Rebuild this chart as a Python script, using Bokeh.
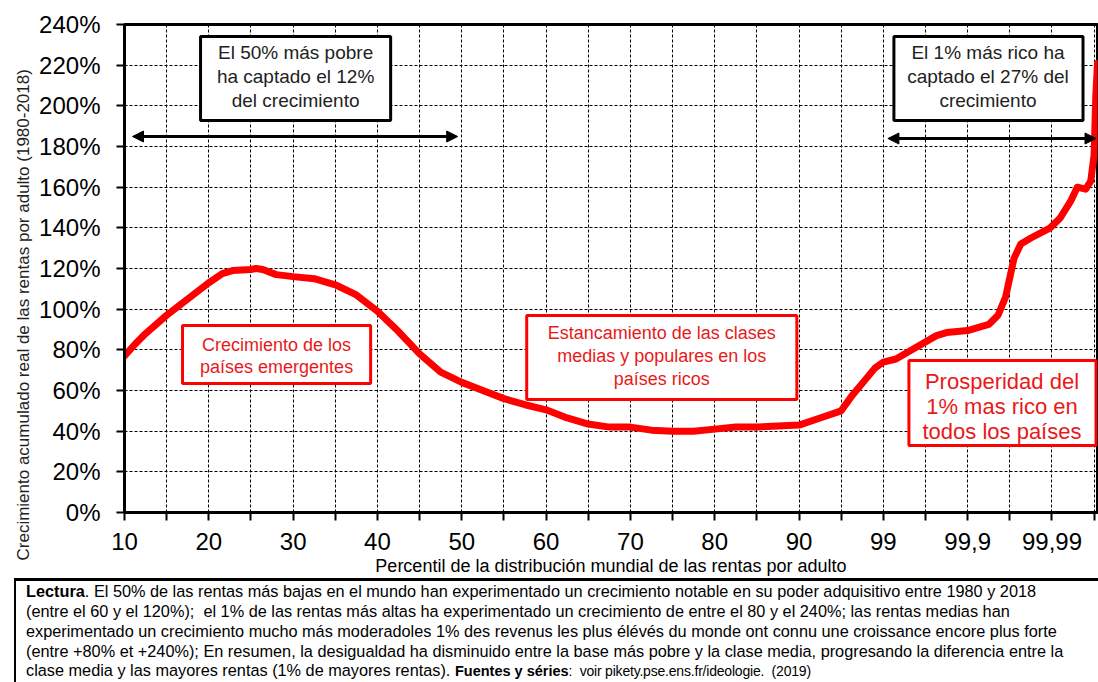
import math
from bokeh.plotting import figure
from bokeh.models import Range1d, FixedTicker, BoxAnnotation, Label, Arrow, NormalHead, Title, Div
from bokeh.layouts import column
from bokeh.embed import file_html
from bokeh.resources import INLINE

# ---------------- data ----------------
tick_labels = ["10", "20", "30", "40", "50", "60", "70", "80", "90", "99", "99,9", "99,99"]
y_ticks = [0, 20, 40, 60, 80, 100, 120, 140, 160, 180, 200, 220, 240]

# position on the (equally spaced) percentile scale: 0 = p10 ... 9 = p99, 10 = p99.9, 11 = p99.99
pos = [0.0, 0.13, 0.25, 0.5, 0.75, 1.0, 1.16, 1.28, 1.5, 1.56, 1.64, 1.8, 2.0, 2.25, 2.5, 2.75,
       3.0, 3.25, 3.5, 3.75, 4.0, 4.25, 4.5, 4.75, 5.0, 5.25, 5.5, 5.75, 6.0, 6.25, 6.5, 6.75,
       7.0, 7.25, 7.5, 7.75, 8.0, 8.25, 8.5, 8.62, 8.76, 8.9, 9.0, 9.15, 9.38, 9.63, 9.75, 10.0,
       10.25, 10.36, 10.45, 10.55, 10.63, 10.75, 10.98, 11.1, 11.22, 11.3, 11.4, 11.46, 11.5,
       11.52, 11.54]
growth = [77, 83, 88, 97, 105, 113, 117.5, 119, 119.5, 120, 119.5, 117, 116, 115, 112, 107,
          99, 89, 78, 69, 64, 60, 56, 53, 50.5, 46.5, 43.5, 42, 42, 40.5, 40, 40,
          41, 42, 42, 42.5, 43, 46.5, 50, 57, 64, 71, 74, 75.5, 81, 87, 88.5, 89.5,
          92.5, 97, 106, 125, 132, 135, 140, 145, 153, 160, 159, 163, 176,
          205, 221]

FONT = "Liberation Sans"
RED = "#ff0000"
RED_TXT = "#e81919"

# page-pixel -> data helpers (layout only)
X0, XS = 124.0, 84.27
Y0, YS = 512.0, 488.0 / 240.0


def dx(px):
    return (px - X0) / XS


def dy(py):
    return (Y0 - py) / YS


p = figure(width=1098, height=578, output_backend="svg", toolbar_location=None,
           x_range=Range1d(0, 11.54), y_range=Range1d(0, 240),
           min_border_left=124, min_border_right=1, min_border_top=24, min_border_bottom=66)
p.background_fill_color = "white"
p.border_fill_color = "white"
p.outline_line_color = "black"
p.outline_line_width = 3

# axes
xt = FixedTicker(ticks=list(range(len(tick_labels))),
                 minor_ticks=[i + 0.5 for i in range(len(tick_labels))])
p.xaxis.ticker = xt
p.xaxis.major_label_overrides = {i: t for i, t in enumerate(tick_labels)}
p.yaxis.ticker = FixedTicker(ticks=y_ticks)
p.yaxis.major_label_overrides = {v: f"{v}%" for v in y_ticks}
for ax in (p.xaxis[0], p.yaxis[0]):
    ax.axis_line_width = 3
    ax.axis_line_color = "black"
    ax.major_tick_line_width = 2
    ax.major_tick_line_color = "black"
    ax.major_tick_out = 8
    ax.major_tick_in = 0
    ax.major_label_text_font = FONT
    ax.major_label_text_font_size = "24px"
    ax.major_label_text_color = "black"
p.xaxis.minor_tick_line_width = 2
p.xaxis.minor_tick_line_color = "black"
p.xaxis.minor_tick_out = 8
p.xaxis.minor_tick_in = 0
p.yaxis.minor_tick_line_color = None
p.xaxis.major_label_standoff = 12
p.yaxis.major_label_standoff = 16
p.xaxis.axis_label = "Percentil de la distribución mundial de las rentas por adulto"
p.xaxis.axis_label_text_font = FONT
p.xaxis.axis_label_text_font_size = "18px"
p.xaxis.axis_label_text_font_style = "normal"
p.xaxis.axis_label_text_color = "black"
p.xaxis.axis_label_standoff = 3

# grid
for g in (p.xgrid[0], p.ygrid[0]):
    g.grid_line_color = "black"
    g.grid_line_width = 1
    g.grid_line_dash = "3 2"
p.xgrid.ticker = xt
p.xgrid.minor_grid_line_color = "black"
p.xgrid.minor_grid_line_width = 1
p.xgrid.minor_grid_line_dash = "3 2"

# y-axis title
p.add_layout(Title(text="Crecimiento acumulado real de las rentas por adulto  (1980-2018)",
                   align="left", offset=-48, standoff=8,
                   text_font=FONT, text_font_size="17px", text_font_style="normal",
                   text_color="#222222"), "left")

# curve
p.line(pos, growth, line_color=RED, line_width=7, line_join="round", line_cap="round")


def box(l, r, t, b, color, lw=3):
    p.add_layout(BoxAnnotation(left=dx(l), right=dx(r), top=dy(t), bottom=dy(b),
                               fill_color="white", fill_alpha=1.0,
                               line_color=color, line_width=lw, line_alpha=1.0))


def lines(cx, ys, texts, color, size):
    for yy, t in zip(ys, texts):
        p.add_layout(Label(x=dx(cx), y=dy(yy), text=t, text_align="center", text_baseline="middle",
                           text_font=FONT, text_font_size=size, text_color=color))


def arrow(x1, x2, y):
    p.add_layout(Arrow(start=NormalHead(size=11, fill_color="black", line_color="black"),
                       end=NormalHead(size=11, fill_color="black", line_color="black"),
                       x_start=dx(x1), y_start=dy(y), x_end=dx(x2), y_end=dy(y),
                       line_color="black", line_width=3))


# black boxes + arrows
box(200, 390, 36, 120, "black")
lines(295, [52, 76, 100], ["El 50% más pobre", "ha captado el 12%", "del crecimiento"], "#222222", "19px")
arrow(132, 457, 136)

box(893, 1082, 36, 120, "black")
lines(987, [52, 76, 100], ["El 1% más rico ha", "captado el 27% del", "crecimiento"], "#222222", "19px")
arrow(887, 1095, 138)

# red boxes
box(182, 370, 325, 383, RED)
lines(276, [344, 366], ["Crecimiento de los", "países emergentes"], RED_TXT, "18px")

box(526, 796, 315, 399, RED)
lines(661, [332, 355, 378], ["Estancamiento de las clases", "medias y populares en los", "países ricos"],
      RED_TXT, "18px")

box(908, 1095, 360, 445, RED)
lines(1001, [381, 406, 431], ["Prosperidad del", "1% mas rico en", "todos los países"], RED_TXT, "22px")

# ---------------- footnote ----------------
foot_lines = [
    "<b>Lectura</b>. El 50% de las rentas más bajas en el mundo han experimentado un crecimiento notable en su poder adquisitivo entre 1980 y 2018",
    "(entre el 60 y el 120%);&nbsp; el 1% de las rentas más altas ha experimentado un crecimiento de entre el 80 y el 240%; las rentas medias han",
    "experimentado un crecimiento mucho más moderadoles 1% des revenus les plus élévés du monde ont connu une croissance encore plus forte",
    "(entre +80% et +240%); En resumen, la desigualdad ha disminuido entre la base más pobre y la clase media, progresando la diferencia entre la",
    "clase media y las mayores rentas (1% de mayores rentas). <b style='font-size:14.5px'>Fuentes y séries</b>"
    "<span style='font-size:14px; letter-spacing:-0.2px'>:&nbsp; voir pikety.pse.ens.fr/ideologie.&nbsp; (2019)</span>",
]
tops = [3, 23, 43, 63, 82]
html = ["<div style='position:relative; width:1098px; height:104px; overflow:hidden; margin:0; padding:0; "
        "font-family:\"Liberation Sans\", Arial, sans-serif; color:#000;'>",
        "<div style='position:absolute; left:14px; top:0px; width:1090px; height:120px; "
        "border-top:3px solid #000; border-left:2px solid #000;'></div>"]
for t, line in zip(tops, foot_lines):
    html.append(f"<div style='position:absolute; left:26px; top:{t}px; white-space:nowrap; "
                f"font-size:16.3px; line-height:20px;'>{line}</div>")
html.append("</div>")
foot = Div(text="".join(html), width=1098, height=104, margin=(0, 0, 0, 0))

layout = column(p, foot, spacing=0)
open("out.html", "w").write(file_html(layout, INLINE))
